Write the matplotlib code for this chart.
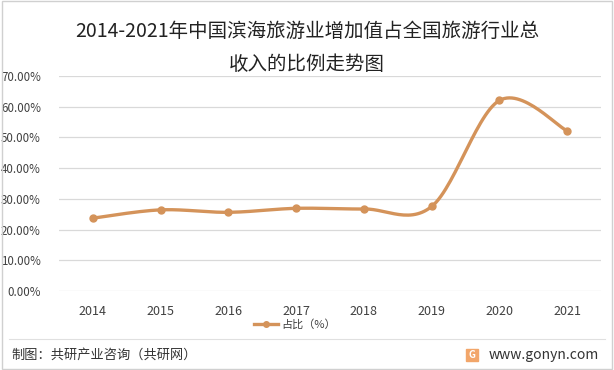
import numpy as np
import matplotlib
matplotlib.use('Agg')
import matplotlib.pyplot as plt
from matplotlib.patches import Rectangle
from matplotlib.lines import Line2D

plt.rcParams['font.family'] = ['Noto Sans CJK SC', 'DejaVu Sans']

years = ['2014', '2015', '2016', '2017', '2018', '2019', '2020', '2021']
share = [23.7, 26.4, 25.6, 26.9, 26.7, 27.5, 62.0, 52.1]
yticks = [0, 10, 20, 30, 40, 50, 60, 70]

line_color = '#D4935A'


# Excel-style smoothed line: Catmull-Rom through the points
def smooth(xs, ys, n=30):
    xs = np.asarray(xs, float)
    ys = np.asarray(ys, float)
    px = np.concatenate([[xs[0]], xs, [xs[-1]]])
    py = np.concatenate([[ys[0]], ys, [ys[-1]]])
    out_x, out_y = [], []
    t = np.linspace(0, 1, n)
    for i in range(1, len(px) - 2):
        p0x, p1x, p2x, p3x = px[i-1], px[i], px[i+1], px[i+2]
        p0y, p1y, p2y, p3y = py[i-1], py[i], py[i+1], py[i+2]
        # bezier control points
        c1x = p1x + (p2x - p0x) / 6
        c1y = p1y + (p2y - p0y) / 6
        c2x = p2x - (p3x - p1x) / 6
        c2y = p2y - (p3y - p1y) / 6
        bx = (1-t)**3*p1x + 3*(1-t)**2*t*c1x + 3*(1-t)*t**2*c2x + t**3*p2x
        by = (1-t)**3*p1y + 3*(1-t)**2*t*c1y + 3*(1-t)*t**2*c2y + t**3*p2y
        out_x.extend(bx)
        out_y.extend(by)
    return np.array(out_x), np.array(out_y)


fig = plt.figure(figsize=(6.14, 3.7), dpi=100)
ax = fig.add_axes([0.096, 0.2135, 0.883, 0.5815])

x = np.arange(len(years))
sx, sy = smooth(x, share)
ax.plot(sx, sy, color=line_color, lw=2.4, solid_capstyle='round', zorder=3)
ax.plot(x, share, 'o', color=line_color, ms=5, zorder=4)

ax.set_xlim(-0.5, len(years) - 0.5)
ax.set_ylim(0, 70)
ax.set_yticks(yticks)
ax.set_yticklabels([f'{v:.2f}%' for v in yticks], fontsize=8.3, color='#404040')
ax.set_xticks(x)
ax.set_xticklabels(years, fontsize=9, color='#404040')
ax.grid(axis='y', color='#d9d9d9', lw=0.9)
ax.set_axisbelow(True)
for s in ax.spines.values():
    s.set_visible(False)
ax.tick_params(length=0)
ax.tick_params(axis='y', pad=13)
ax.tick_params(axis='x', pad=10)

fig.text(0.5, 0.915, '2014-2021年中国滨海旅游业增加值占全国旅游行业总',
         ha='center', va='center', fontsize=14, color='#222222')
fig.text(0.5, 0.825, '收入的比例走势图',
         ha='center', va='center', fontsize=14, color='#222222')

# legend
handle = Line2D([], [], color=line_color, lw=2.4, marker='o', ms=4)
fig.legend([handle], ['占比（%）'], loc='center', bbox_to_anchor=(0.48, 0.122),
           frameon=False, fontsize=8, handlelength=2.2, handletextpad=0.3,
           labelcolor='#404040')

# footer
fig.add_artist(Line2D([0.015, 0.985], [0.085, 0.085], color='#e0e0e0', lw=0.8,
                      transform=fig.transFigure))
fig.text(0.018, 0.04, '制图：共研产业咨询（共研网）', fontsize=9.5, color='#333333',
         va='center')
fig.text(0.975, 0.04, 'www.gonyn.com', fontsize=10, color='#333333',
         va='center', ha='right')
fig.add_artist(Rectangle((0.759, 0.024), 0.019, 0.032, color='#F2A66A',
                         transform=fig.transFigure))
fig.text(0.7685, 0.04, 'G', fontsize=7, color='white', fontweight='bold',
         ha='center', va='center')

# outer frame
fig.add_artist(Rectangle((0.003, 0.004), 0.994, 0.992, fill=False,
                         edgecolor='#d0d0d0', lw=1, transform=fig.transFigure))

fig.savefig('out.png', dpi=100)
